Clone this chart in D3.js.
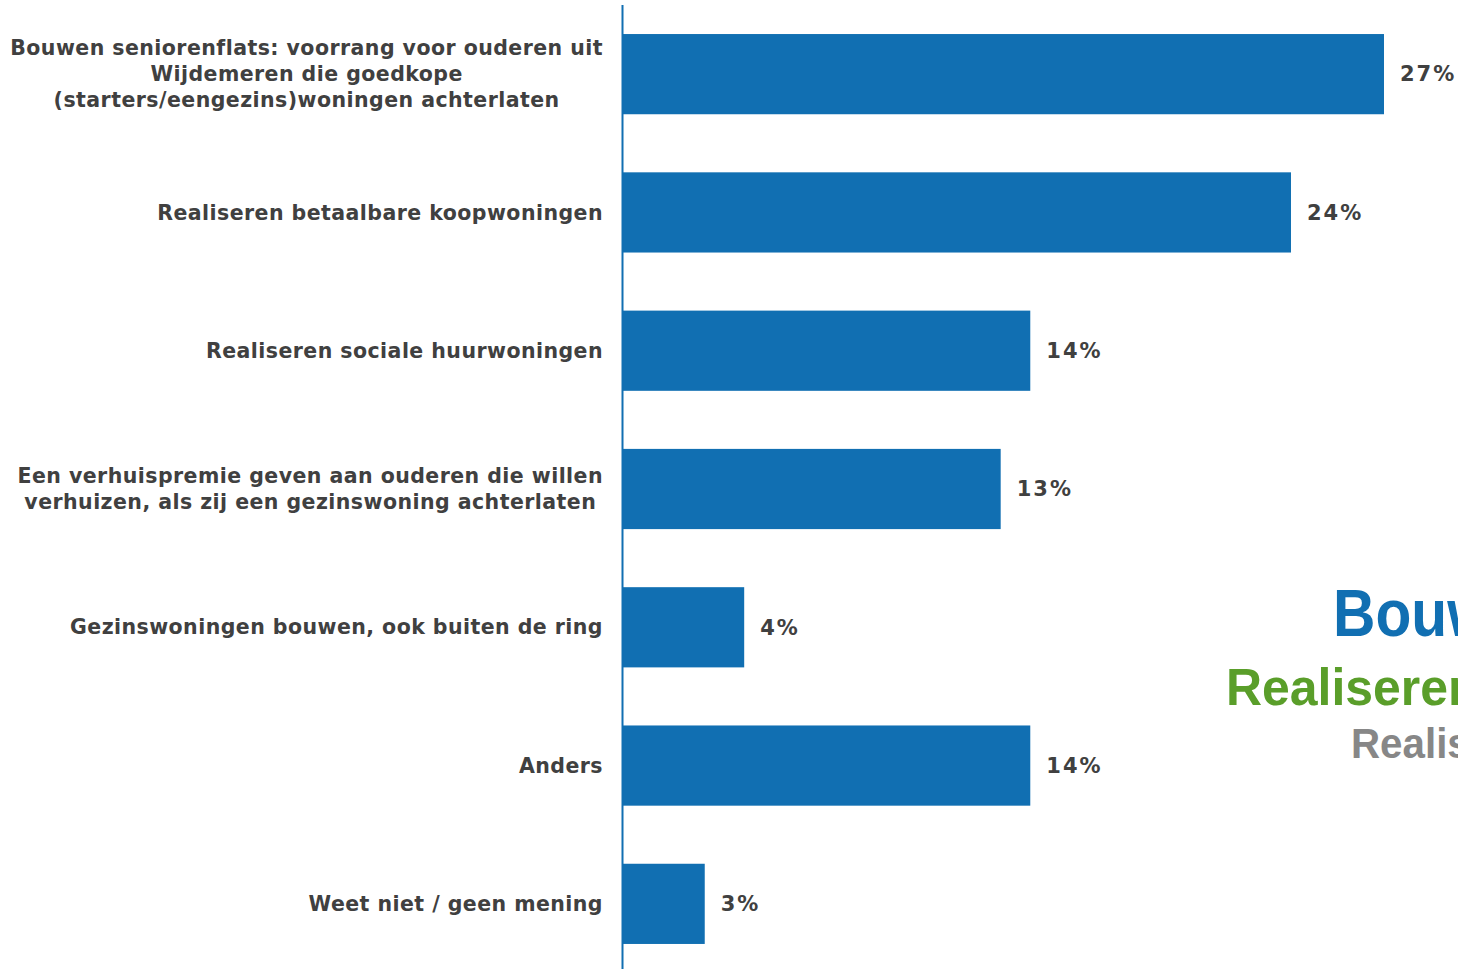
<!DOCTYPE html>
<html>
<head>
<meta charset="utf-8">
<script src="https://cdn.jsdelivr.net/npm/d3@7"></script>
<style>
  body { margin: 0; background: #fff; overflow: hidden; }
  svg { display: block; }
</style>
</head>
<body>
<div id="chart"></div>
<script>
// answers (percentages)
var categories = [
    ["Bouwen seniorenflats: voorrang voor ouderen uit", "Wijdemeren die goedkope", "(starters/eengezins)woningen achterlaten"],
    ["Realiseren betaalbare koopwoningen"],
    ["Realiseren sociale huurwoningen"],
    ["Een verhuispremie geven aan ouderen die willen", "verhuizen, als zij een gezinswoning achterlaten"],
    ["Gezinswoningen bouwen, ook buiten de ring"],
    ["Anders"],
    ["Weet niet / geen mening"]
];
var values = [27.0, 23.7, 14.45, 13.4, 4.3, 14.45, 2.9];
var valueLabels = ["27%", "24%", "14%", "13%", "4%", "14%", "3%"];

// word-cloud fragments on the right (cut off by the page edge)
var cloudWords = ["Bouwen seniorenflats", "Realiseren betaalbare koopwoningen", "Realiseren sociale huurwoningen"];
var cloudColors = ["#116fb2", "#5a9e2a", "#878787"];

var width = 1458;
var height = 969;
var axisX = 623;
var barColor = "#116fb2";
var textColor = "#404040";
var font = "'DejaVu Sans', Verdana, sans-serif";

var svg = d3.select('#chart')
    .append('svg')
    .attr('width', width)
    .attr('height', height);

var x = d3.scaleLinear()
    .domain([0, 27])
    .range([axisX, 1384]);

var y = d3.scaleBand()
    .domain(d3.range(categories.length))
    .range([5, 973])
    .paddingInner(0.42)
    .paddingOuter(0.21);

svg.selectAll('rect.bar')
    .data(values)
    .enter()
    .append('rect')
    .attr('class', 'bar')
    .attr('x', x(0))
    .attr('y', function (d, i) { return y(i); })
    .attr('width', function (d) { return x(d) - x(0); })
    .attr('height', y.bandwidth())
    .attr('fill', barColor);

// axis line
svg.append('line')
    .attr('x1', axisX - 0.5)
    .attr('x2', axisX - 0.5)
    .attr('y1', 5)
    .attr('y2', height)
    .attr('stroke', barColor)
    .attr('stroke-width', 2);

// value labels
svg.selectAll('text.value')
    .data(values)
    .enter()
    .append('text')
    .attr('class', 'value')
    .attr('x', function (d) { return x(d) + 16; })
    .attr('y', function (d, i) { return y(i) + y.bandwidth() / 2; })
    .attr('dy', '0.35em')
    .attr('font-family', font)
    .attr('font-weight', 'bold')
    .attr('font-size', 21)
    .attr('letter-spacing', 2)
    .attr('fill', textColor)
    .text(function (d, i) { return valueLabels[i]; });

// category labels: block right-aligned, lines centred within block
var lineHeight = 26;
var labelRight = 603;
var groups = svg.selectAll('g.cat')
    .data(categories)
    .enter()
    .append('g')
    .attr('class', 'cat');

groups.each(function (lines, i) {
    var g = d3.select(this);
    var cy = y(i) + y.bandwidth() / 2;
    var texts = g.selectAll('text')
        .data(lines)
        .enter()
        .append('text')
        .attr('font-family', font)
        .attr('font-weight', 'bold')
        .attr('font-size', 20.5)
        .attr('letter-spacing', 0.45)
        .attr('fill', textColor)
        .attr('text-anchor', 'middle')
        .attr('dy', '0.35em')
        .attr('y', function (d, j) { return cy + (j - (lines.length - 1) / 2) * lineHeight; })
        .text(function (d) { return d; });
    var maxW = 0;
    texts.each(function () { maxW = Math.max(maxW, this.getComputedTextLength()); });
    texts.attr('x', labelRight - maxW / 2);
});

// clipped word cloud
var cloud = [
    {x: 1333, y: 636, size: 66, sx: 0.89},
    {x: 1226, y: 705, size: 52, sx: 0.96},
    {x: 1351, y: 758, size: 42, sx: 0.96}
];
svg.selectAll('text.cloud')
    .data(cloudWords)
    .enter()
    .append('text')
    .attr('class', 'cloud')
    .attr('transform', function (d, i) {
        return 'translate(' + cloud[i].x + ',' + cloud[i].y + ') scale(' + cloud[i].sx + ',1)';
    })
    .attr('font-family', "'Liberation Sans', Arial, sans-serif")
    .attr('font-weight', 'bold')
    .attr('font-size', function (d, i) { return cloud[i].size; })
    .attr('fill', function (d, i) { return cloudColors[i]; })
    .text(function (d) { return d; });
</script>
</body>
</html>
